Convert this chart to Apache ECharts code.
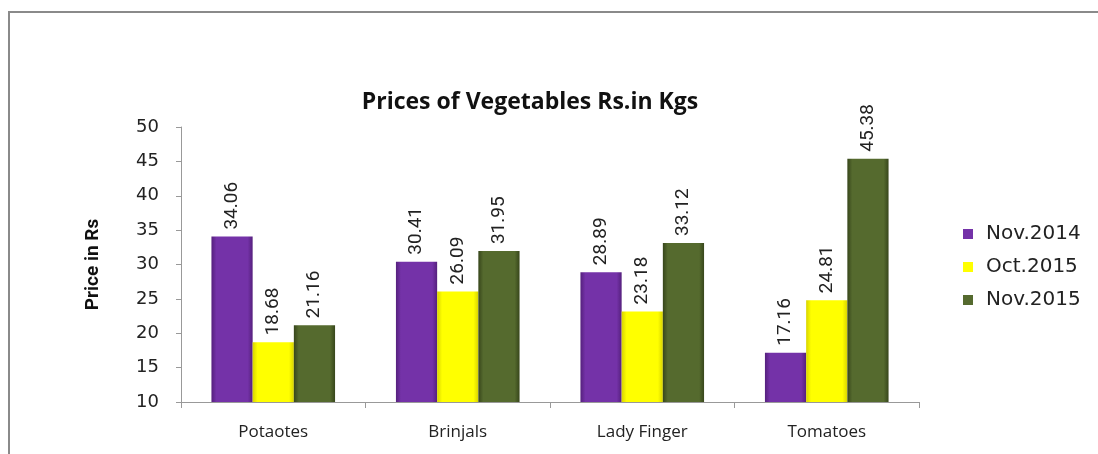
<!DOCTYPE html>
<html>
<head>
<meta charset="utf-8">
<script src="https://cdn.jsdelivr.net/npm/echarts@6/dist/echarts.min.js"></script>
<style>
  html, body { margin: 0; padding: 0; background: #fff; }
  #chart { width: 1098px; height: 454px; }
</style>
</head>
<body>
<div id="chart"></div>
<script>
// vegetable prices (Rs per kg)
const categories = ['Potaotes', 'Brinjals', 'Lady Finger', 'Tomatoes']
const nov2014 = [34.06, 30.41, 28.89, 17.16]
const oct2015 = [18.68, 26.09, 23.18, 24.81]
const nov2015 = [21.16, 31.95, 33.12, 45.38]
const seriesNames = ['Nov.2014', 'Oct.2015', 'Nov.2015']

function shade (edge, mid) {
  return new echarts.graphic.LinearGradient(0, 0, 1, 0, [
    { offset: 0, color: edge },
    { offset: 0.12, color: mid },
    { offset: 0.88, color: mid },
    { offset: 1, color: edge }
  ])
}

const colors = [
  shade('#55207d', '#7432a8'),
  shade('#d8d400', '#ffff00'),
  shade('#37461b', '#556a2e')
]
const plain = ['#7432a8', '#ffff00', '#556a2e']

function makeSeries (name, data, i) {
  return {
    name: name,
    type: 'bar',
    data: data,
    barGap: '0%',
    barCategoryGap: '33%',
    itemStyle: { color: colors[i] },
    label: {
      show: true,
      position: 'top',
      rotate: 90,
      align: 'left',
      verticalAlign: 'middle',
      distance: 7,
      fontFamily: 'Roboto',
      fontSize: 19,
      color: '#222',
      formatter: p => p.value.toFixed(2)
    }
  }
}

const chart = echarts.init(document.getElementById('chart'))
chart.setOption({
  animation: false,
  title: {
    text: 'Prices of Vegetables Rs.in Kgs',
    left: 525,
    textAlign: 'center',
    top: 86,
    textStyle: { fontFamily: 'Open Sans', fontWeight: 'bold', fontSize: 23, color: '#111' }
  },
  graphic: [{
    type: 'rect',
    shape: { x: 9, y: 12, width: 1300, height: 700 },
    style: { fill: 'none', stroke: '#8a8a8a', lineWidth: 2 },
    silent: true
  }],
  legend: {
    orient: 'vertical',
    left: 958,
    top: 219,
    itemWidth: 10,
    itemHeight: 10,
    itemGap: 13,
    icon: 'rect',
    data: seriesNames.map((n, i) => ({ name: n, itemStyle: { color: plain[i] } })),
    textStyle: { fontFamily: 'DejaVu Sans', fontSize: 20, color: '#222', padding: [0, 0, 0, 8] }
  },
  grid: { left: 181, right: 179, top: 127, bottom: 52 },
  xAxis: {
    type: 'category',
    data: categories,
    axisLine: { lineStyle: { color: '#999' } },
    axisTick: { show: true, length: 6, lineStyle: { color: '#999' } },
    axisLabel: { fontFamily: 'Open Sans', fontSize: 17, color: '#222', margin: 22 }
  },
  yAxis: {
    type: 'value',
    min: 10,
    max: 50,
    interval: 5,
    name: 'Price in Rs',
    nameLocation: 'middle',
    nameGap: 78,
    nameTextStyle: { fontFamily: 'Roboto', fontWeight: 'bold', fontSize: 19, color: '#111' },
    axisLine: { show: true, lineStyle: { color: '#999' } },
    axisTick: { show: true, length: 5, lineStyle: { color: '#999' } },
    splitLine: { show: false },
    axisLabel: { fontFamily: 'DejaVu Sans', fontSize: 18, color: '#222', margin: 22 }
  },
  series: [
    makeSeries(seriesNames[0], nov2014, 0),
    makeSeries(seriesNames[1], oct2015, 1),
    makeSeries(seriesNames[2], nov2015, 2)
  ]
})
</script>
</body>
</html>
